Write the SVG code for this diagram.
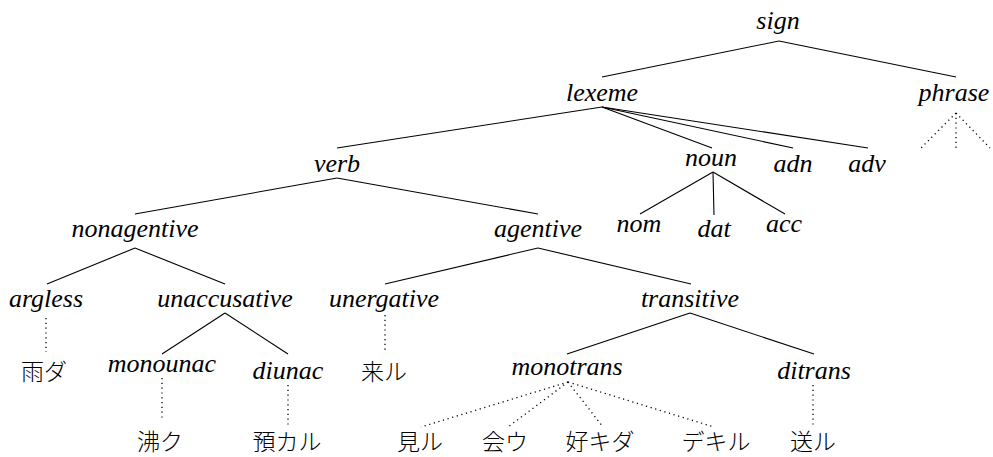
<svg xmlns="http://www.w3.org/2000/svg" width="993" height="457" viewBox="0 0 993 457">
  <style>
    .t { font-family: "Liberation Serif", "DejaVu Serif", "Noto Serif", Times, serif; font-style: italic; font-size: 26px; fill: #000; text-anchor: middle; }
    .j { font-family: "Noto Sans CJK JP", "Noto Sans CJK SC", serif; font-size: 23px; font-weight: 300; fill: #000; text-anchor: middle; }
    .e { stroke: #000; stroke-width: 1.1; fill: none; }
    .d { stroke: #000; stroke-width: 1.3; fill: none; stroke-dasharray: 1.2 3.6; }
  </style>
  <rect width="993" height="457" fill="#fff"/>

  <!-- connectors -->
  <g id="edges">
    <line class="e" x1="779" y1="41" x2="602" y2="77"/>
    <line class="e" x1="779" y1="41" x2="956" y2="77"/>

    <line class="e" x1="602" y1="107" x2="337" y2="148"/>
    <line class="e" x1="602" y1="107" x2="712" y2="148"/>
    <line class="e" x1="602" y1="107" x2="793" y2="148"/>
    <line class="e" x1="602" y1="107" x2="868" y2="148"/>

    <line class="d" x1="956" y1="113" x2="921" y2="148"/>
    <line class="d" x1="956" y1="113" x2="956" y2="148"/>
    <line class="d" x1="956" y1="113" x2="990" y2="148"/>

    <line class="e" x1="713" y1="172" x2="640" y2="214"/>
    <line class="e" x1="713" y1="172" x2="714" y2="215"/>
    <line class="e" x1="713" y1="172" x2="785" y2="214"/>

    <line class="e" x1="337" y1="178" x2="135" y2="214"/>
    <line class="e" x1="337" y1="178" x2="538" y2="214"/>

    <line class="e" x1="135" y1="248" x2="47" y2="284"/>
    <line class="e" x1="135" y1="248" x2="225" y2="284"/>

    <line class="e" x1="538" y1="248" x2="385" y2="284"/>
    <line class="e" x1="538" y1="248" x2="691" y2="284"/>

    <line class="d" x1="46" y1="318" x2="46" y2="352"/>

    <line class="e" x1="225" y1="313" x2="162" y2="354"/>
    <line class="e" x1="225" y1="313" x2="288" y2="354"/>

    <line class="d" x1="385" y1="315" x2="385" y2="352"/>

    <line class="e" x1="690" y1="313" x2="567" y2="354"/>
    <line class="e" x1="690" y1="313" x2="814" y2="354"/>

    <line class="d" x1="162" y1="378" x2="162" y2="420"/>
    <line class="d" x1="288" y1="385" x2="288" y2="427"/>

    <line class="d" x1="568" y1="382" x2="421" y2="427"/>
    <line class="d" x1="568" y1="382" x2="508" y2="427"/>
    <line class="d" x1="568" y1="382" x2="603" y2="427"/>
    <line class="d" x1="568" y1="382" x2="714" y2="427"/>

    <line class="d" x1="813" y1="385" x2="813" y2="427"/>
  </g>

  <!-- type nodes -->
  <g id="sign"><text class="t" x="778" y="29">sign</text></g>
  <g id="lexeme"><text class="t" x="602" y="101">lexeme</text></g>
  <g id="phrase"><text class="t" x="954" y="101">phrase</text></g>
  <g id="verb"><text class="t" x="337" y="172">verb</text></g>
  <g id="noun"><text class="t" x="711" y="166">noun</text></g>
  <g id="adn"><text class="t" x="793" y="172">adn</text></g>
  <g id="adv"><text class="t" x="867" y="172">adv</text></g>
  <g id="nom"><text class="t" x="639" y="232">nom</text></g>
  <g id="dat"><text class="t" x="714" y="237">dat</text></g>
  <g id="acc"><text class="t" x="784" y="232">acc</text></g>
  <g id="nonagentive"><text class="t" x="135" y="237">nonagentive</text></g>
  <g id="agentive"><text class="t" x="538" y="237">agentive</text></g>
  <g id="argless"><text class="t" x="46" y="307">argless</text></g>
  <g id="unaccusative"><text class="t" x="225" y="307">unaccusative</text></g>
  <g id="unergative"><text class="t" x="384" y="307">unergative</text></g>
  <g id="transitive"><text class="t" x="690" y="307">transitive</text></g>
  <g id="monounac"><text class="t" x="162" y="372">monounac</text></g>
  <g id="diunac"><text class="t" x="288" y="379">diunac</text></g>
  <g id="monotrans"><text class="t" x="567" y="375">monotrans</text></g>
  <g id="ditrans"><text class="t" x="814" y="379">ditrans</text></g>

  <!-- lexical entries -->
  <g id="ame-da"><text class="j" x="44" y="380">雨ダ</text></g>
  <g id="kuru"><text class="j" x="384" y="380">来ル</text></g>
  <g id="waku"><text class="j" x="160" y="450">沸ク</text></g>
  <g id="azukaru"><text class="j" x="287" y="450">預カル</text></g>
  <g id="miru"><text class="j" x="420" y="450">見ル</text></g>
  <g id="au"><text class="j" x="505" y="450">会ウ</text></g>
  <g id="suki-da"><text class="j" x="600" y="450">好キダ</text></g>
  <g id="dekiru"><text class="j" x="716" y="450">デキル</text></g>
  <g id="okuru"><text class="j" x="813" y="450">送ル</text></g>
</svg>
